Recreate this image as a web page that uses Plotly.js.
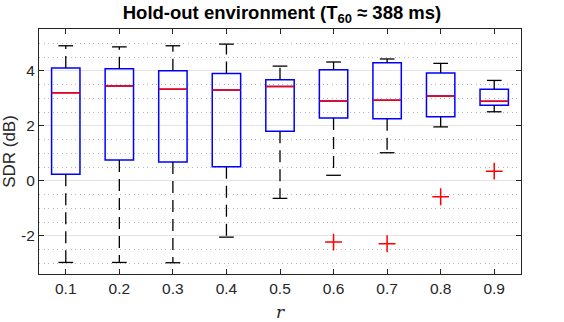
<!DOCTYPE html>
<html>
<head>
<meta charset="utf-8">
<script src="https://cdn.plot.ly/plotly-3.0.1.min.js"></script>
<style>
  html, body { margin: 0; padding: 0; background: white; }
  #chart { width: 564px; height: 322px; }
</style>
</head>
<body>
<div id="chart"></div>
<script>
// Box statistics (SDR in dB)
const ratios = ['0.1', '0.2', '0.3', '0.4', '0.5', '0.6', '0.7', '0.8', '0.9'];
const q1 = [0.24, 0.76, 0.68, 0.51, 1.80, 2.28, 2.26, 2.33, 2.75];
const medians = [3.20, 3.45, 3.33, 3.30, 3.43, 2.90, 2.93, 3.08, 2.89];
const q3 = [4.10, 4.07, 4.00, 3.90, 3.67, 4.04, 4.29, 3.92, 3.33];
const lowerWhisker = [-2.97, -2.97, -2.98, -2.05, -0.64, 0.20, 1.02, 1.96, 2.51];
const upperWhisker = [4.91, 4.87, 4.91, 4.97, 4.17, 4.32, 4.43, 4.27, 3.65];

// Outliers
const outlierRatios = ['0.6', '0.7', '0.8', '0.9'];
const outlierValues = [-2.23, -2.29, -0.58, 0.35];

const axisColor = '#262626';

// blue boxes, whiskers are drawn separately (dashed black like MATLAB)
const boxes = {
    type: 'box',
    x: ratios,
    q1: q1,
    median: medians,
    q3: q3,
    lowerfence: q1,
    upperfence: q3,
    width: 0.53,
    whiskerwidth: 0,
    fillcolor: 'rgba(0,0,0,0)',
    line: { color: '#0000ff', width: 1.5 },
    hoverinfo: 'skip'
};

// whisker segments from box edge to whisker end
const wx = [], wy = [];
ratios.forEach((r, i) => {
    wx.push(r, r, null, r, r, null);
    wy.push(q3[i], upperWhisker[i], null, q1[i], lowerWhisker[i], null);
});
const whiskers = {
    type: 'scatter',
    mode: 'lines',
    x: wx,
    y: wy,
    line: { color: '#000000', width: 1.3, dash: '12px,7px' },
    hoverinfo: 'skip'
};

const caps = {
    type: 'scatter',
    mode: 'markers',
    x: ratios.concat(ratios),
    y: upperWhisker.concat(lowerWhisker),
    marker: { symbol: 'line-ew', size: 10.5, color: '#000000', line: { color: '#000000', width: 1.3 } },
    hoverinfo: 'skip'
};

const medianLines = {
    type: 'scatter',
    mode: 'markers',
    x: ratios,
    y: medians,
    marker: { symbol: 'line-ew', size: 20, color: '#ff0000', line: { color: '#ff0000', width: 1.5 } },
    hoverinfo: 'skip'
};

const outliers = {
    type: 'scatter',
    mode: 'markers',
    x: outlierRatios,
    y: outlierValues,
    marker: { symbol: 'cross-thin-open', size: 12, color: '#ff0000', line: { color: '#ff0000', width: 1.5 } },
    hoverinfo: 'skip'
};

const layout = {
    width: 564,
    height: 322,
    margin: { l: 39, r: 43, t: 29, b: 48 },
    paper_bgcolor: 'white',
    plot_bgcolor: 'white',
    showlegend: false,
    font: { family: 'Liberation Sans, Arial, sans-serif', size: 15.5, color: axisColor },
    title: {
        text: '<b>Hold-out environment (T<sub>60</sub> ≈ 388 ms)</b>',
        font: { size: 18.5, color: '#000000' },
        x: 0.5,
        xanchor: 'center',
        yref: 'container',
        y: 0.962,
        yanchor: 'middle'
    },
    xaxis: {
        type: 'category',
        categoryorder: 'array',
        categoryarray: ratios,
        range: [-0.5, 8.5],
        showgrid: false,
        zeroline: false,
        showline: true,
        linecolor: axisColor,
        linewidth: 1,
        mirror: 'ticks',
        ticks: 'inside',
        ticklen: 5,
        tickcolor: axisColor,
        title: {
            text: '<i>r</i>',
            font: { family: 'DejaVu Serif, Liberation Serif, serif', size: 17, color: axisColor },
            standoff: 10
        }
    },
    yaxis: {
        range: [-3.39, 5.52],
        tickvals: [-2, 0, 2, 4],
        ticktext: ['-2', '0', '2', '4'],
        showgrid: true,
        gridcolor: '#e3e3e3',
        gridwidth: 1,
        zeroline: false,
        showline: true,
        linecolor: axisColor,
        linewidth: 1,
        mirror: 'ticks',
        ticks: 'inside',
        ticklen: 5,
        tickcolor: axisColor,
        minor: {
            dtick: 0.5,
            tick0: 0,
            showgrid: true,
            gridcolor: '#b8b8b8',
            griddash: '1px,3.5px',
            gridwidth: 1,
            ticks: ''
        },
        title: {
            text: 'SDR (dB)',
            font: { size: 17, color: axisColor },
            standoff: 6
        }
    }
};

Plotly.newPlot('chart', [boxes, whiskers, caps, medianLines, outliers], layout, { staticPlot: true });
</script>
</body>
</html>
